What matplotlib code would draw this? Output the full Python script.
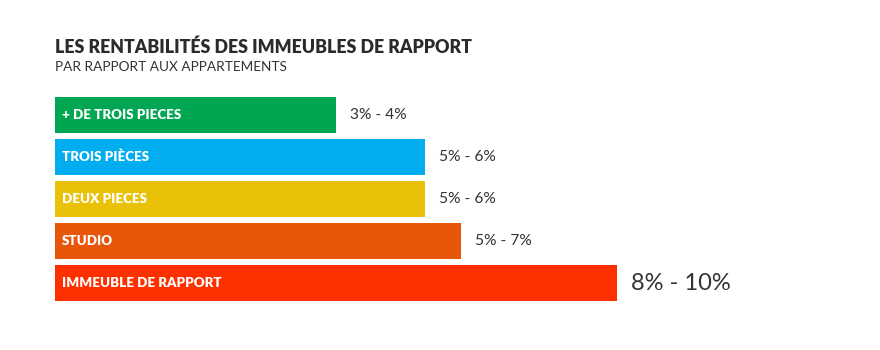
import matplotlib
matplotlib.use("Agg")
import matplotlib.pyplot as plt

categories = ["+ DE TROIS PIECES", "TROIS PIÈCES", "DEUX PIECES", "STUDIO", "IMMEUBLE DE RAPPORT"]
bar_lengths = [50.0, 65.8, 65.8, 72.2, 100.0]
value_labels = ["3% - 4%", "5% - 6%", "5% - 6%", "5% - 7%", "8% - 10%"]
colors = ["#00A651", "#00AEEF", "#E8C108", "#E8560A", "#FF3000"]
value_sizes = [11.2, 11.2, 11.2, 11.2, 17]

title = "LES RENTABILITÉS DES IMMEUBLES DE RAPPORT"
subtitle = "PAR RAPPORT AUX APPARTEMENTS"

plt.rcParams['font.family'] = ['Lato', 'DejaVu Sans']

W, H = 880, 350
fig = plt.figure(figsize=(W / 100, H / 100), dpi=100)
fig.patch.set_facecolor("white")

ax = fig.add_axes([55 / W, 49 / H, 562 / W, 204 / H])
ypos = list(range(len(categories)))
ax.barh(ypos, bar_lengths, height=36 / 42, color=colors, align="center")
pad = (1 - 36 / 42) / 2
ax.set_ylim(len(categories) - 0.5 - pad, -0.5 + pad)
ax.set_xlim(0, 100)
ax.axis("off")

for y, lab, val, ln, sz in zip(ypos, categories, value_labels, bar_lengths, value_sizes):
    ax.annotate(lab, xy=(0, y), xytext=(5, 0), textcoords="offset points",
                ha="left", va="center", color="white", fontsize=9.6,
                fontweight="heavy", clip_on=False)
    ax.annotate(val, xy=(ln, y), xytext=(10.2, 0), textcoords="offset points",
                ha="left", va="center", color="#333333", fontsize=sz,
                clip_on=False)

fig.text(55 / W, 1 - 53 / H, title, ha="left", va="baseline",
         fontsize=12.8, fontweight="heavy", color="#2b2b2b")
fig.text(55 / W, 1 - 71 / H, subtitle, ha="left", va="baseline",
         fontsize=9.8, color="#333333")

fig.savefig("out.png", dpi=100, facecolor="white")
